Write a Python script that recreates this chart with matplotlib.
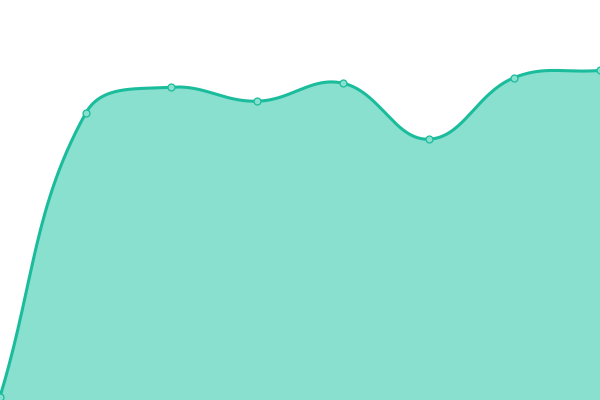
import matplotlib
matplotlib.use("Agg")
import matplotlib.pyplot as plt
import numpy as np

# data (index, value on a 0-100 scale)
labels = ["a", "b", "c", "d", "e", "f", "g", "h"]
values = [0.8, 71.7, 78.2, 74.7, 79.2, 65.2, 80.6, 82.4]

line_color = "#1abc9c"
fill_color = "#89e0cf"
tension = 0.4

W, H = 600, 400
fig = plt.figure(figsize=(W / 100, H / 100), dpi=100)
ax = fig.add_axes([0, 0, 1, 1])
n = len(values)
ax.set_xlim(0, n - 1)
ax.set_ylim(0, 100)
ax.axis("off")

# spline like chart.js, computed in pixel space
px = np.arange(n) * W / (n - 1)
py = np.array(values) * H / 100.0
pts = np.column_stack([px, py])

cp_prev = pts.copy()
cp_next = pts.copy()
for i in range(n):
    prev = pts[i - 1] if i > 0 else pts[i]
    nxt = pts[i + 1] if i < n - 1 else pts[i]
    d01 = np.hypot(*(pts[i] - prev))
    d12 = np.hypot(*(nxt - pts[i]))
    tot = d01 + d12
    s01 = d01 / tot if tot else 0
    s12 = d12 / tot if tot else 0
    cp_prev[i] = pts[i] - tension * s01 * (nxt - prev)
    cp_next[i] = pts[i] + tension * s12 * (nxt - prev)
cp_prev[:, 1] = np.clip(cp_prev[:, 1], 0, H)
cp_next[:, 1] = np.clip(cp_next[:, 1], 0, H)

t = np.linspace(0, 1, 60)[:, None]
curve = []
for i in range(n - 1):
    p0, p1, p2, p3 = pts[i], cp_next[i], cp_prev[i + 1], pts[i + 1]
    seg = (1 - t) ** 3 * p0 + 3 * (1 - t) ** 2 * t * p1 + 3 * (1 - t) * t ** 2 * p2 + t ** 3 * p3
    curve.append(seg)
curve = np.vstack(curve)
cx = curve[:, 0] * (n - 1) / W
cy = curve[:, 1] * 100.0 / H

ax.fill_between(cx, 0, cy, color=fill_color, lw=0)
ax.plot(cx, cy, color=line_color, lw=2.2, solid_capstyle="round")
ax.plot(np.arange(n), values, "o", ms=5, mfc=fill_color, mec=line_color, mew=0.9)

fig.savefig("out.png", dpi=100)
